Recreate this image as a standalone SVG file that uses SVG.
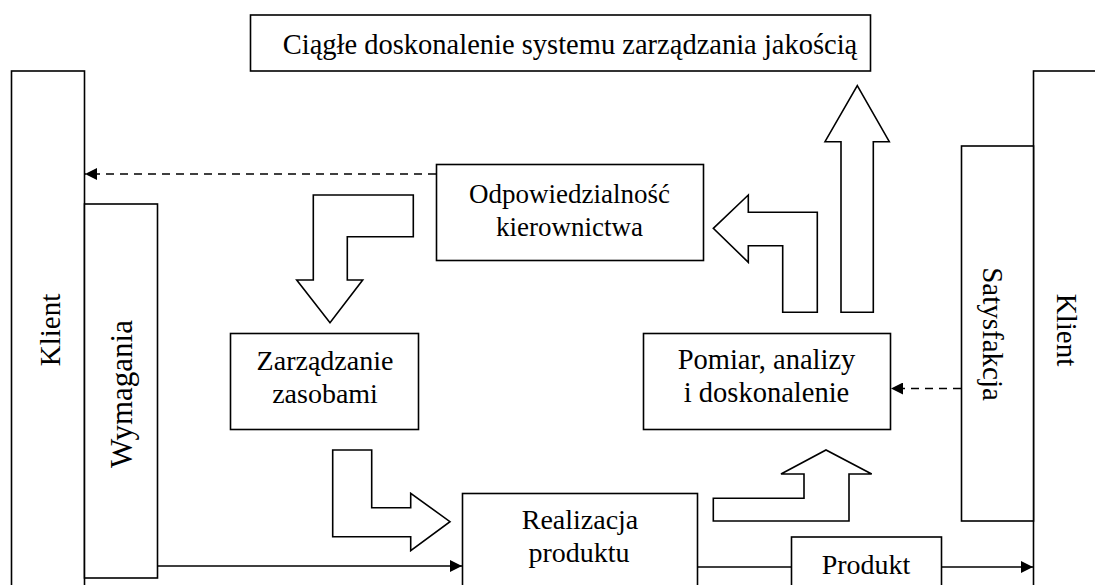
<svg xmlns="http://www.w3.org/2000/svg" width="1095" height="585" viewBox="0 0 1095 585">
<defs>
<style>
.box{fill:#fff;stroke:#000;stroke-width:1.6}
.blk{fill:#fff;stroke:#000;stroke-width:1.6;stroke-linejoin:miter}
.t{font-size:28px;fill:#000;text-anchor:middle}
.ln{stroke:#000;stroke-width:1.6;fill:none}
.dash{stroke:#000;stroke-width:1.6;fill:none;stroke-dasharray:8 6}
</style>
<marker id="ah" viewBox="0 0 10 10" refX="10" refY="5" markerWidth="15" markerHeight="12" markerUnits="userSpaceOnUse" orient="auto">
<path d="M0,0 L10,5 L0,10 Z" fill="#000"/>
</marker>
</defs>
<rect width="1095" height="585" fill="#fff"/>
<g font-family="Liberation Serif, Times New Roman, DejaVu Serif, serif">
<g id="klient-left"><rect class="box" x="11.5" y="71" width="73" height="540"/><text class="t" style="font-size:29px" transform="translate(60,330) rotate(-90)">Klient</text></g>
<g id="wymagania"><rect class="box" x="84.5" y="204" width="73" height="374"/><text class="t" style="font-size:31px" transform="translate(132,394) rotate(-90)">Wymagania</text></g>
<g id="klient-right"><rect class="box" x="1033.5" y="71" width="80" height="540"/><text class="t" style="font-size:29px" transform="translate(1057,330) rotate(90)">Klient</text></g>
<g id="satysfakcja"><rect class="box" x="961.5" y="146" width="72" height="375"/><text class="t" style="font-size:29px" transform="translate(983,334) rotate(90)">Satysfakcja</text></g>
<g id="ciagle"><rect class="box" x="250.5" y="15" width="620" height="56"/><text class="t" style="font-size:28.5px" x="570" y="54">Ciągłe doskonalenie systemu zarządzania jakością</text></g>
<g id="odpowiedzialnosc"><rect class="box" x="436.5" y="164.5" width="267" height="96"/><text class="t" style="font-size:27px" x="569.5" y="203">Odpowiedzialność</text><text class="t" style="font-size:27px" x="569.5" y="236">kierownictwa</text></g>
<g id="zarzadzanie"><rect class="box" x="230.5" y="333.5" width="188" height="96"/><text class="t" x="325" y="370">Zarządzanie</text><text class="t" x="325" y="403">zasobami</text></g>
<g id="pomiar"><rect class="box" x="643.5" y="333.5" width="247" height="96"/><text class="t" style="font-size:28.5px" x="766.5" y="369">Pomiar, analizy</text><text class="t" style="font-size:28.5px" x="766.5" y="402">i doskonalenie</text></g>
<g id="realizacja"><rect class="box" x="462.5" y="493.5" width="235" height="120"/><text class="t" x="580" y="529">Realizacja</text><text class="t" x="579" y="562">produktu</text></g>
<g id="produkt"><rect class="box" x="791.5" y="537" width="150" height="70"/><text class="t" x="866" y="574">Produkt</text></g>
</g>
<g id="block-arrows">
<polygon class="blk" points="313.3,195 413.3,195 413.3,236.7 347.3,236.7 347.3,280 362.7,280 330,322.7 296.7,280 313.3,280"/>
<polygon class="blk" points="332.7,450 371.7,450 371.7,507.7 410.7,507.7 410.7,493.3 450,521.7 410.7,550.7 410.7,536.7 332.7,536.7"/>
<polygon class="blk" points="713.3,521 713.3,498.3 804,498.3 804,474 781,474 826,450 871.7,474 849,474 849,521"/>
<polygon class="blk" points="713.3,228.3 748.3,195 748.3,212.3 817.3,212.3 817.3,312.3 782.7,312.3 782.7,245.7 748.3,245.7 748.3,262.3"/>
<polygon class="blk" points="857.3,85.7 889.3,141.7 873.3,141.7 873.3,312.3 841,312.3 841,141.7 825,141.7"/>
</g>
<g id="connectors">
<line class="dash" x1="436" y1="174" x2="85" y2="174" marker-end="url(#ah)"/>
<line class="dash" x1="961" y1="388.5" x2="891" y2="388.5" marker-end="url(#ah)"/>
<line class="ln" x1="157" y1="566" x2="462" y2="566" marker-end="url(#ah)"/>
<line class="ln" x1="697" y1="567" x2="791" y2="567"/>
<line class="ln" x1="941" y1="567" x2="1033" y2="567" marker-end="url(#ah)"/>
</g>
</svg>
